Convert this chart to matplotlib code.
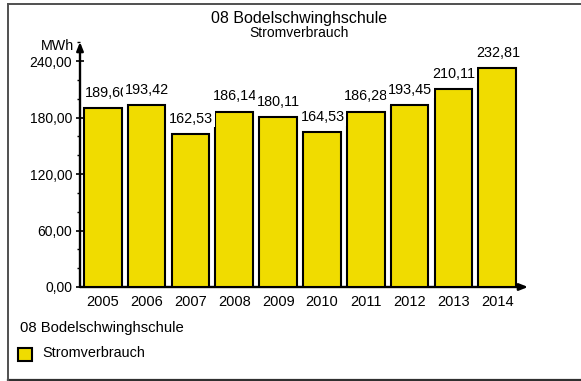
import matplotlib
matplotlib.use("Agg")
import matplotlib.pyplot as plt
from matplotlib.patches import Rectangle
from matplotlib.ticker import MultipleLocator, FuncFormatter

plt.rcParams['font.family'] = ['Liberation Sans', 'DejaVu Sans']

years = ['2005', '2006', '2007', '2008', '2009', '2010', '2011', '2012', '2013', '2014']
values = [189.60, 193.42, 162.53, 186.14, 180.11, 164.53, 186.28, 193.45, 210.11, 232.81]
title = '08 Bodelschwinghschule'
series = 'Stromverbrauch'
unit = 'MWh'

W, H = 581, 381
fig = plt.figure(figsize=(W / 100, H / 100), dpi=100)

def fx(px):
    return px / W

def fy(py):
    return 1 - py / H

# outer frame (open to the right)
fig.add_artist(plt.Line2D([fx(8), 1.01], [fy(4), fy(4)], color='#505050', lw=1.4))
fig.add_artist(plt.Line2D([fx(8), 1.01], [fy(380), fy(380)], color='#303030', lw=1.6))
fig.add_artist(plt.Line2D([fx(8), fx(8)], [fy(4), fy(380)], color='#505050', lw=1.4))

ax = fig.add_axes([fx(80), fy(287), fx(528) - fx(80), fy(42) - fy(287)])
ax.set_xlim(-0.52, 9.7)
ax.set_ylim(0, 260.2)
ax.patch.set_alpha(0)
for s in ax.spines.values():
    s.set_visible(False)

x = list(range(len(years)))
ax.bar(x, values, width=0.86, color='#F0DC00', edgecolor='black', lw=1.5, zorder=3)

# axes with arrow heads
arrow = dict(arrowstyle='-|>,head_length=0.5,head_width=0.2',
             lw=1.7, color='black', shrinkA=0, shrinkB=0)
ax.annotate('', xy=(1, 0), xytext=(0, 0), xycoords='axes fraction',
            arrowprops=arrow, zorder=2)
ax.annotate('', xy=(0, 1), xytext=(0, 0), xycoords='axes fraction',
            arrowprops=arrow, zorder=2)

ax.yaxis.set_major_locator(MultipleLocator(60))
ax.yaxis.set_minor_locator(MultipleLocator(20))
ax.yaxis.set_major_formatter(FuncFormatter(lambda v, p: f'{v:.2f}'.replace('.', ',') if v <= 240 else ''))
ax.tick_params(axis='y', which='major', direction='inout', length=6, width=1.2,
               labelsize=10, pad=2.5)
ax.tick_params(axis='y', which='minor', direction='out', length=2, width=1)
ax.set_xticks(x)
ax.set_xticklabels(years)
ax.tick_params(axis='x', direction='in', length=2, width=0.8, labelsize=10.5, pad=6,
               color='#444444')

for xi, v in zip(x, values):
    txt = f'{v:.2f}'.replace('.', ',')
    dx = 3.0 if xi == 0 else 0.4
    ax.annotate(txt, xy=(xi, v), xytext=(dx, 11),
                textcoords='offset points', ha='center', va='center', fontsize=10.4,
                bbox=dict(boxstyle='square,pad=0.12', fc='white', ec='none'), zorder=4)

fig.text(fx(74), fy(46), unit, ha='right', va='center', fontsize=10.3)
fig.text(fx(299), fy(18), title, ha='center', va='center', fontsize=11.5)
fig.text(fx(299), fy(33), series, ha='center', va='center', fontsize=10)

# legend
fig.text(fx(20), fy(328), title, ha='left', va='center', fontsize=10.7)
fig.patches.append(Rectangle((fx(18), fy(361)), fx(14), fy(348) - fy(361),
                             transform=fig.transFigure, facecolor='#F0DC00',
                             edgecolor='black', lw=1.5))
fig.text(fx(42), fy(353), series, ha='left', va='center', fontsize=10.4)

fig.savefig('out.png', dpi=100)
